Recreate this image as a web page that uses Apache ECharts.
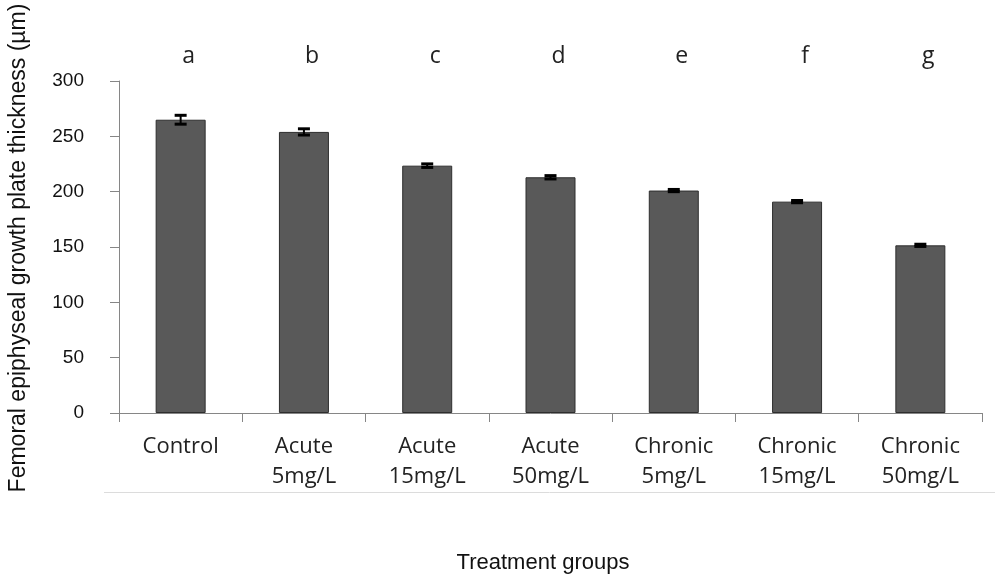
<!DOCTYPE html>
<html>
<head>
<meta charset="utf-8">
<script src="https://cdn.jsdelivr.net/npm/echarts@6/dist/echarts.min.js"></script>
<style>
  html, body { margin: 0; padding: 0; background: #fff; }
  #chart { width: 995px; height: 574px; }
</style>
</head>
<body>
<div id="chart"></div>
<script>
// Treatment groups on the x axis (two-line labels)
const groups = ['Control', 'Acute\n5mg/L', 'Acute\n15mg/L', 'Acute\n50mg/L',
                'Chronic\n5mg/L', 'Chronic\n15mg/L', 'Chronic\n50mg/L'];
// Significance letters shown above each group
const letters = ['a', 'b', 'c', 'd', 'e', 'f', 'g'];
// Mean growth plate thickness (µm) and standard error
const thickness = [265, 254, 223.5, 213, 201, 191, 151.5];
const stdError = [4, 2.8, 1.6, 1.5, 1, 1, 1];
// Y axis ticks
const yMin = 0, yMax = 300, yStep = 50;

const errorData = thickness.map((v, i) => [i, v - stdError[i], v + stdError[i]]);

const chart = echarts.init(document.getElementById('chart'));
chart.setOption({
  animation: false,
  grid: { left: 119, right: 13, top: 81, bottom: 161, containLabel: false },
  xAxis: [{
    type: 'category',
    data: groups,
    axisLine: { lineStyle: { color: '#868686', width: 1 } },
    axisTick: { show: true, length: 9, lineStyle: { color: '#868686' } },
    axisLabel: {
      interval: 0, margin: 19, fontFamily: '"Open Sans", sans-serif',
      fontSize: 22, lineHeight: 30, color: '#222'
    }
  }, {
    type: 'category',
    position: 'top',
    data: letters,
    axisLine: { show: false },
    axisTick: { show: false },
    axisLabel: {
      interval: 0, margin: 13, fontFamily: '"Open Sans", sans-serif',
      fontSize: 23, color: '#222', padding: [0, 0, 0, 16]
    }
  }],
  yAxis: {
    type: 'value',
    min: yMin, max: yMax, interval: yStep,
    axisLine: { show: true, lineStyle: { color: '#868686' } },
    axisTick: { show: true, length: 9, lineStyle: { color: '#868686' } },
    splitLine: { show: false },
    axisLabel: {
      margin: 35, fontFamily: '"Liberation Sans", Arial, sans-serif',
      fontSize: 19, color: '#111'
    }
  },
  series: [{
    type: 'bar',
    data: thickness,
    barWidth: 50,
    itemStyle: { color: '#595959', borderColor: '#2e2e2e', borderWidth: 1 }
  }, {
    type: 'custom',
    data: errorData,
    z: 10,
    renderItem: function (params, api) {
      const x = api.value(0);
      const lo = api.coord([x, api.value(1)]);
      const hi = api.coord([x, api.value(2)]);
      const half = 6;
      const style = { stroke: '#000', lineWidth: 3 };
      return {
        type: 'group',
        children: [
          { type: 'line', shape: { x1: hi[0], y1: hi[1], x2: lo[0], y2: lo[1] }, style: { stroke: '#000', lineWidth: 2 } },
          { type: 'line', shape: { x1: hi[0] - half, y1: hi[1], x2: hi[0] + half, y2: hi[1] }, style: style },
          { type: 'line', shape: { x1: lo[0] - half, y1: lo[1], x2: lo[0] + half, y2: lo[1] }, style: style }
        ]
      };
    }
  }],
  graphic: [{
    type: 'line',
    shape: { x1: 104, y1: 492.5, x2: 995, y2: 492.5 },
    style: { stroke: '#dcdcdc', lineWidth: 1 }
  }, {
    type: 'text',
    x: 543, y: 563,
    style: {
      text: 'Treatment groups', fill: '#111',
      font: '22px "Liberation Sans", Arial, sans-serif',
      align: 'center', verticalAlign: 'middle'
    }
  }, {
    type: 'text',
    x: 19, y: 248,
    rotation: Math.PI / 2,
    style: {
      text: 'Femoral epiphyseal growth plate thickness (µm)', fill: '#111',
      font: '23px "Liberation Sans", Arial, sans-serif',
      align: 'center', verticalAlign: 'middle'
    }
  }]
});
</script>
</body>
</html>
